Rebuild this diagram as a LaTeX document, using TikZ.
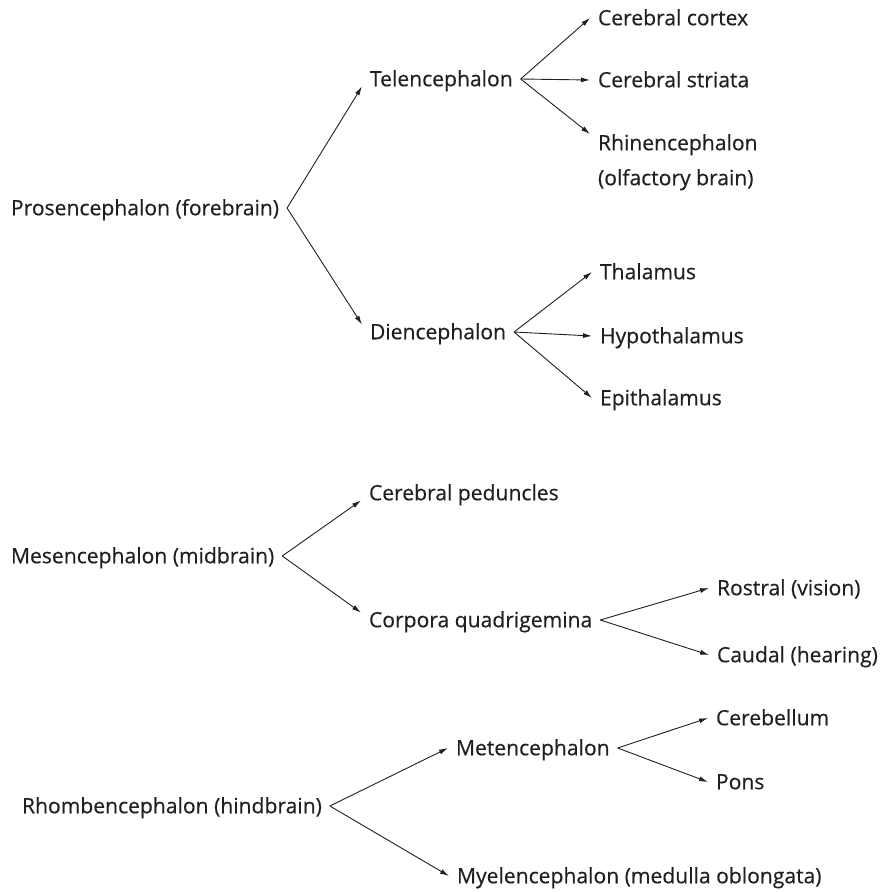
\documentclass[tikz,border=0pt]{standalone}
\usepackage{fontspec}
\setmainfont[FakeBold=0.4]{Open Sans}
\usetikzlibrary{arrows.meta}
\definecolor{tinte}{HTML}{231F20}
\tikzset{
  teil/.style={anchor=west,inner sep=0pt,outer xsep=8pt,text height=14.5pt,text depth=0pt,text=tinte,font=\fontsize{21.1}{35}\selectfont},
  teilz/.style={anchor=north west,inner sep=0pt,outer xsep=8pt,align=left,text=tinte,font=\fontsize{21.1}{35}\selectfont},
  pfeil/.style={-{Latex[length=9pt,width=5pt]},tinte,line width=0.9pt},
}
\begin{document}
\begin{tikzpicture}[x=1pt,y=-1pt]
  \useasboundingbox (0,0) rectangle (885,892);
  % forebrain
  \node[teil] (pros) at (3,208) {Prosencephalon (forebrain)};
  \node[teil] (tel) at (362,79) {Telencephalon};
  \node[teil] (die) at (362,332) {Diencephalon};
  \node[teil] (cortex) at (590,18) {Cerebral cortex};
  \node[teil] (striata) at (590,80) {Cerebral striata};
  \node[teilz] (rhin) at (590,134) {Rhinencephalon\\(olfactory brain)};
  \node[teil] (thal) at (592,272) {Thalamus};
  \node[teil] (hypo) at (592,336) {Hypothalamus};
  \node[teil] (epi) at (592,398) {Epithalamus};
  \draw[pfeil] (pros.east) -- (tel.south west);
  \draw[pfeil] (pros.east) -- (die.north west);
  \draw[pfeil] (tel.east) -- (cortex.west);
  \draw[pfeil] (tel.east) -- (striata.west);
  \draw[pfeil] (tel.east) -- (rhin.north west);
  \draw[pfeil] (die.east) -- (thal.west);
  \draw[pfeil] (die.east) -- (hypo.west);
  \draw[pfeil] (die.east) -- (epi.west);
  % midbrain
  \node[teil] (mes) at (3,556) {Mesencephalon (midbrain)};
  \node[teil] (ped) at (361,493) {Cerebral peduncles};
  \node[teil] (corp) at (361,620) {Corpora quadrigemina};
  \node[teil] (rostral) at (709,588) {Rostral (vision)};
  \node[teil] (caudal) at (709,655) {Caudal (hearing)};
  \draw[pfeil] (mes.east) -- (ped.south west);
  \draw[pfeil] (mes.east) -- (corp.north west);
  \draw[pfeil] (corp.east) -- (rostral.west);
  \draw[pfeil] (corp.east) -- (caudal.west);
  % hindbrain
  \node[teil] (rhomb) at (14,806) {Rhombencephalon (hindbrain)};
  \node[teil] (met) at (448,748) {Metencephalon};
  \node[teil] (myel) at (449,876) {Myelencephalon (medulla oblongata)};
  \node[teil] (cereb) at (708,718) {Cerebellum};
  \node[teil] (pons) at (708,782) {Pons};
  \draw[pfeil] (rhomb.east) -- (met.west);
  \draw[pfeil] (rhomb.east) -- (myel.west);
  \draw[pfeil] (met.east) -- (cereb.west);
  \draw[pfeil] (met.east) -- (pons.west);
\end{tikzpicture}
\end{document}
